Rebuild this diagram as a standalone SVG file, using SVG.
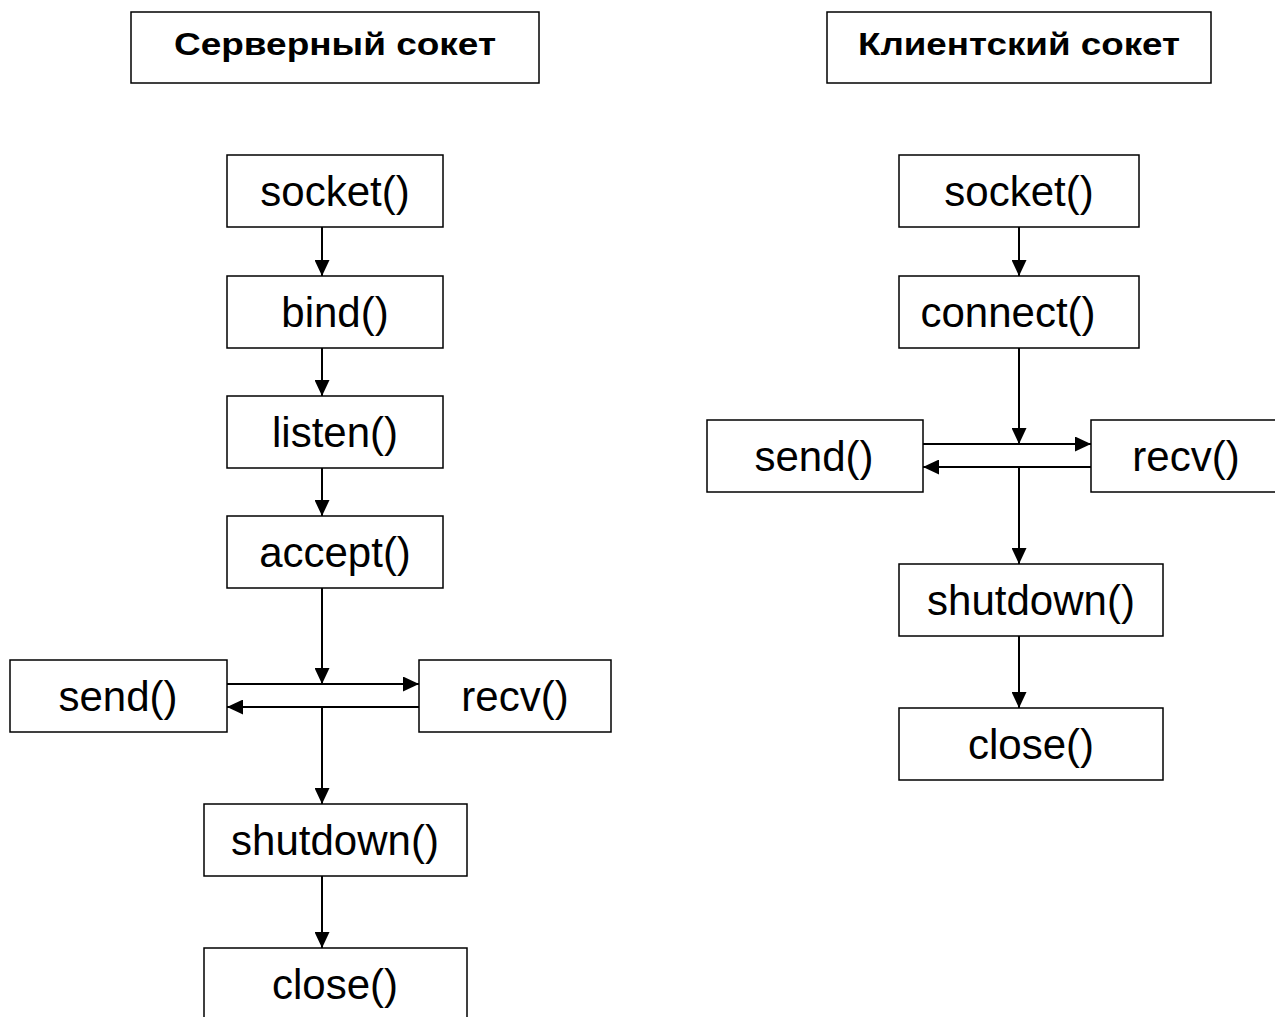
<svg xmlns="http://www.w3.org/2000/svg" width="1275" height="1017" viewBox="0 0 1275 1017">
<defs>
<marker id="ah" viewBox="0 0 16 15" refX="16" refY="7.5" markerWidth="16" markerHeight="15" markerUnits="userSpaceOnUse" orient="auto">
<path d="M0,0 L16,7.5 L0,15 Z" fill="#000"/>
</marker>
<style>
.box{fill:#fff;stroke:#000;stroke-width:1.5}
.t{font-family:"Liberation Sans",Arial,sans-serif;font-size:42px;text-anchor:middle;fill:#000}
.h{font-family:"Liberation Sans",Arial,sans-serif;font-size:32px;font-weight:bold;text-anchor:middle;fill:#000}
.c{stroke:#000;stroke-width:2;fill:none;marker-end:url(#ah)}
</style>
</defs>
<rect width="1275" height="1017" fill="#fff"/>
<g id="title-server"><rect class="box" x="131" y="12" width="408" height="71"/><text class="h" x="335" y="55" textLength="322" lengthAdjust="spacingAndGlyphs">Серверный сокет</text></g>
<g id="title-client"><rect class="box" x="827" y="12" width="384" height="71"/><text class="h" x="1019" y="55" textLength="322" lengthAdjust="spacingAndGlyphs">Клиентский сокет</text></g>

<g id="s-socket"><rect class="box" x="227" y="155" width="216" height="72"/><text class="t" x="335" y="206">socket()</text></g>
<g id="s-bind"><rect class="box" x="227" y="276" width="216" height="72"/><text class="t" x="335" y="327">bind()</text></g>
<g id="s-listen"><rect class="box" x="227" y="396" width="216" height="72"/><text class="t" x="335" y="447">listen()</text></g>
<g id="s-accept"><rect class="box" x="227" y="516" width="216" height="72"/><text class="t" x="335" y="567">accept()</text></g>
<g id="s-send"><rect class="box" x="10" y="660" width="217" height="72"/><text class="t" x="118" y="711">send()</text></g>
<g id="s-recv"><rect class="box" x="419" y="660" width="192" height="72"/><text class="t" x="515" y="711">recv()</text></g>
<g id="s-shutdown"><rect class="box" x="204" y="804" width="263" height="72"/><text class="t" x="335" y="855">shutdown()</text></g>
<g id="s-close"><rect class="box" x="204" y="948" width="263" height="80"/><text class="t" x="335" y="999">close()</text></g>

<g id="c-socket"><rect class="box" x="899" y="155" width="240" height="72"/><text class="t" x="1019" y="206">socket()</text></g>
<g id="c-connect"><rect class="box" x="899" y="276" width="240" height="72"/><text class="t" x="1008" y="327">connect()</text></g>
<g id="c-send"><rect class="box" x="707" y="420" width="216" height="72"/><text class="t" x="814" y="471">send()</text></g>
<g id="c-recv"><rect class="box" x="1091" y="420" width="190" height="72"/><text class="t" x="1186" y="471">recv()</text></g>
<g id="c-shutdown"><rect class="box" x="899" y="564" width="264" height="72"/><text class="t" x="1031" y="615">shutdown()</text></g>
<g id="c-close"><rect class="box" x="899" y="708" width="264" height="72"/><text class="t" x="1031" y="759">close()</text></g>

<g id="connectors">
<line class="c" x1="322" y1="227" x2="322" y2="276"/>
<line class="c" x1="322" y1="348" x2="322" y2="396"/>
<line class="c" x1="322" y1="468" x2="322" y2="516"/>
<line class="c" x1="322" y1="588" x2="322" y2="684"/>
<line class="c" x1="227" y1="684" x2="419" y2="684"/>
<line class="c" x1="419" y1="707" x2="227" y2="707"/>
<line class="c" x1="322" y1="707" x2="322" y2="804"/>
<line class="c" x1="322" y1="876" x2="322" y2="948"/>

<line class="c" x1="1019" y1="227" x2="1019" y2="276"/>
<line class="c" x1="1019" y1="348" x2="1019" y2="444"/>
<line class="c" x1="923" y1="444" x2="1091" y2="444"/>
<line class="c" x1="1091" y1="467" x2="923" y2="467"/>
<line class="c" x1="1019" y1="467" x2="1019" y2="564"/>
<line class="c" x1="1019" y1="636" x2="1019" y2="708"/>
</g>
</svg>
